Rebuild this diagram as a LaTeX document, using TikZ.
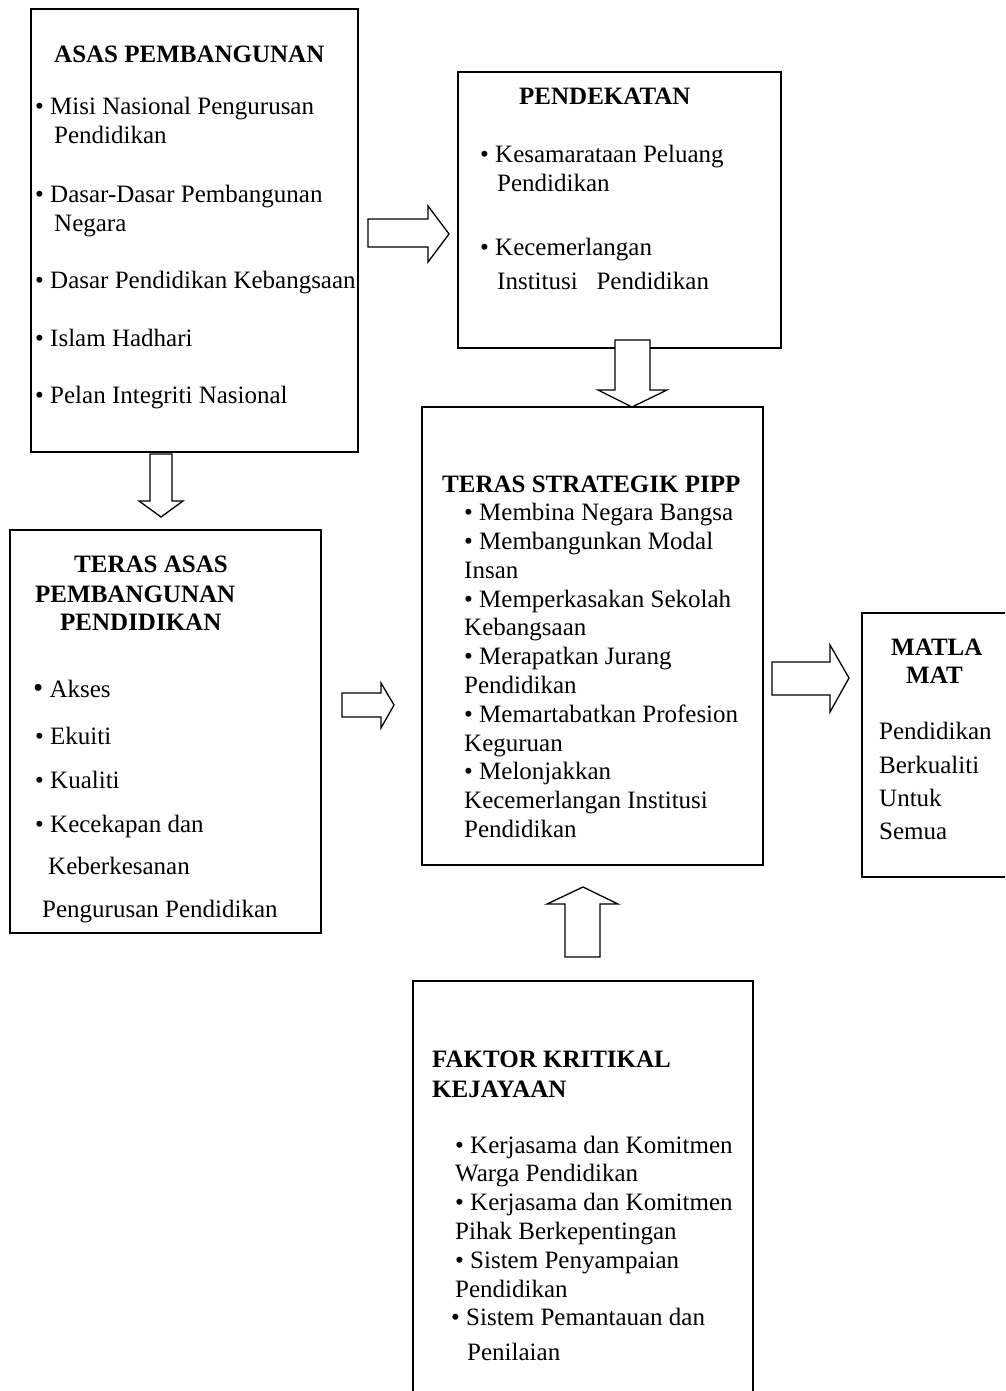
\documentclass[tikz,border=0pt]{standalone}
\usepackage{fontspec}
\setmainfont{Liberation Serif}
\begin{document}
\begin{tikzpicture}[x=1pt,y=-1pt,
  box/.style={draw,line width=1.6pt,inner sep=0pt},
  blockarrow/.style={draw,line width=1.3pt,fill=white,line join=miter},
  txt/.style={inner sep=0pt,anchor=base west,font=\fontsize{25}{29}\selectfont},
  ttl/.style={txt,font=\fontsize{25}{29}\selectfont\bfseries}]
\useasboundingbox (0,0) rectangle (1005,1391);
\clip (0,0) rectangle (1005,1391);
% boxes
\draw[box] (31,9) rectangle (358,452);
\draw[box] (458,72) rectangle (781,348);
\draw[box] (422,407) rectangle (763,865);
\draw[box] (10,530) rectangle (321,933);
\draw[box] (862,613) rectangle (1020,877);
\draw[box] (413,981) rectangle (753,1410);
% block arrows
\draw[blockarrow] (368,219) -- (428,219) -- (428,206) -- (449,234) -- (428,262) -- (428,247) -- (368,247) -- cycle;
\draw[blockarrow] (615,340) -- (650,340) -- (650,390) -- (667,390) -- (632,407) -- (598,390) -- (615,390) -- cycle;
\draw[blockarrow] (150,454) -- (172,454) -- (172,501) -- (183,501) -- (161,517) -- (139,501) -- (150,501) -- cycle;
\draw[blockarrow] (342,693) -- (381,693) -- (381,683) -- (394,705) -- (381,728) -- (381,717) -- (342,717) -- cycle;
\draw[blockarrow] (772,662) -- (830,662) -- (830,645) -- (849,678) -- (830,712) -- (830,695) -- (772,695) -- cycle;
\draw[blockarrow] (565,957) -- (565,904) -- (547,904) -- (583,887) -- (618,904) -- (600,904) -- (600,957) -- cycle;
% ASAS PEMBANGUNAN
\node[ttl] (a0) at (54,63) {ASAS PEMBANGUNAN};
\node[txt] (a1) at (35,115) {\textbullet\ Misi Nasional Pengurusan};
\node[txt] (a2) at (54,144) {Pendidikan};
\node[txt] (a3) at (35,202) {\textbullet\ Dasar-Dasar Pembangunan};
\node[txt] (a4) at (54,231) {Negara};
\node[txt] (a5) at (35,288) {\textbullet\ Dasar Pendidikan Kebangsaan};
\node[txt] (a6) at (35,346) {\textbullet\ Islam Hadhari};
\node[txt] (a7) at (35,403) {\textbullet\ Pelan Integriti Nasional};
% PENDEKATAN
\node[ttl] (p0) at (519,105) {PENDEKATAN};
\node[txt] (p1) at (480,163) {\textbullet\ Kesamarataan Peluang};
\node[txt] (p2) at (497,192) {Pendidikan};
\node[txt] (p3) at (480,255) {\textbullet\ Kecemerlangan};
\node[txt] (p4) at (497,289) {Institusi\ \ \ Pendidikan};
% TERAS STRATEGIK
\node[ttl] (s0) at (442,492) {TERAS STRATEGIK PIPP};
\node[txt] (s1) at (464,520) {\textbullet\ Membina Negara Bangsa};
\node[txt] (s2) at (464,549) {\textbullet\ Membangunkan Modal};
\node[txt] (s3) at (464,578) {Insan};
\node[txt] (s4) at (464,607) {\textbullet\ Memperkasakan Sekolah};
\node[txt] (s5) at (464,635) {Kebangsaan};
\node[txt] (s6) at (464,664) {\textbullet\ Merapatkan Jurang};
\node[txt] (s7) at (464,693) {Pendidikan};
\node[txt] (s8) at (464,722) {\textbullet\ Memartabatkan Profesion};
\node[txt] (s9) at (464,751) {Keguruan};
\node[txt] (s10) at (464,779) {\textbullet\ Melonjakkan};
\node[txt] (s11) at (464,808) {Kecemerlangan Institusi};
\node[txt] (s12) at (464,837) {Pendidikan};
% TERAS ASAS
\node[ttl] (t0) at (74,572) {TERAS ASAS};
\node[ttl] (t1) at (35,602) {PEMBANGUNAN};
\node[ttl] (t2) at (60,630) {PENDIDIKAN};
\node[txt] (t3) at (33,697) {{\fontsize{29}{29}\selectfont\textbullet}\ Akses};
\node[txt] (t4) at (35,744) {\textbullet\ Ekuiti};
\node[txt] (t5) at (35,788) {\textbullet\ Kualiti};
\node[txt] (t6) at (35,832) {\textbullet\ Kecekapan dan};
\node[txt] (t7) at (48,874) {Keberkesanan};
\node[txt] (t8) at (42,917) {Pengurusan Pendidikan};
% MATLAMAT
\node[ttl] (m0) at (891,655) {MATLA};
\node[ttl] (m1) at (906,683) {MAT};
\node[txt] (m2) at (879,739) {Pendidikan};
\node[txt] (m3) at (879,773) {Berkualiti};
\node[txt] (m4) at (879,806) {Untuk};
\node[txt] (m5) at (879,839) {Semua};
% FAKTOR KRITIKAL
\node[ttl] (f0) at (432,1067) {FAKTOR KRITIKAL};
\node[ttl] (f1) at (432,1097) {KEJAYAAN};
\node[txt] (f2) at (455,1153) {\textbullet\ Kerjasama dan Komitmen};
\node[txt] (f3) at (455,1181) {Warga Pendidikan};
\node[txt] (f4) at (455,1210) {\textbullet\ Kerjasama dan Komitmen};
\node[txt] (f5) at (455,1239) {Pihak Berkepentingan};
\node[txt] (f6) at (455,1268) {\textbullet\ Sistem Penyampaian};
\node[txt] (f7) at (455,1297) {Pendidikan};
\node[txt] (f8) at (451,1325) {\textbullet\ Sistem Pemantauan dan};
\node[txt] (f9) at (467,1360) {Penilaian};
\end{tikzpicture}
\end{document}
